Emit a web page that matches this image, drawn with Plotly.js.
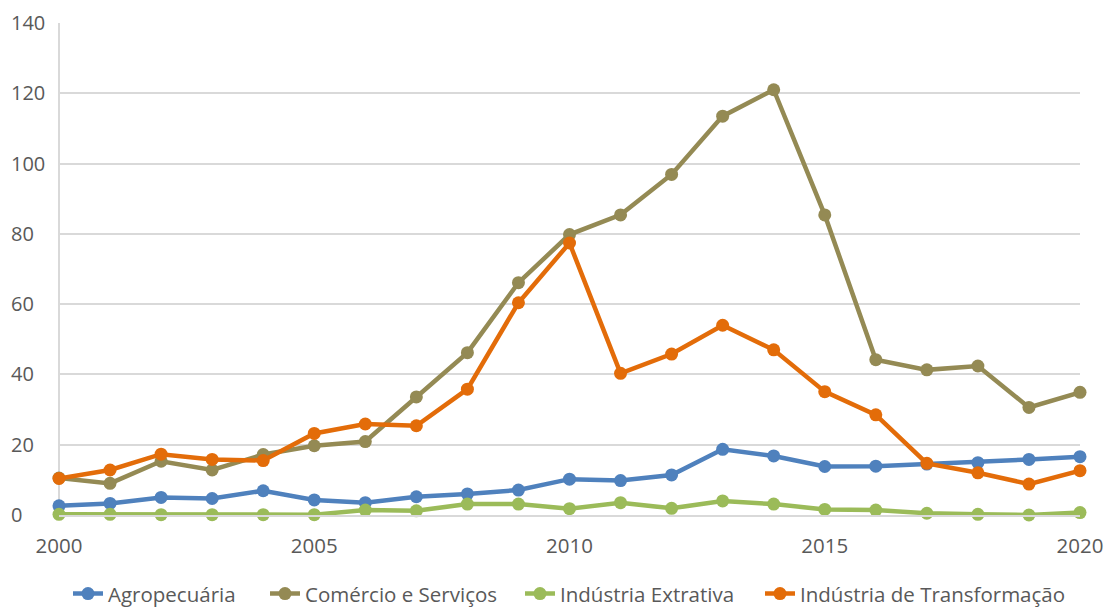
<!DOCTYPE html>
<html>
<head>
<meta charset="utf-8">
<script src="https://cdn.plot.ly/plotly-3.0.1.min.js"></script>
<style>html,body{margin:0;padding:0;background:#fff;}</style>
</head>
<body>
<div id="chart" style="width:1106px;height:609px;"></div>
<script>
const years = [2000,2001,2002,2003,2004,2005,2006,2007,2008,2009,2010,2011,2012,2013,2014,2015,2016,2017,2018,2019,2020];
const agropecuaria = [2.6,3.3,5.0,4.7,6.9,4.3,3.5,5.2,6.0,7.1,10.2,9.8,11.4,18.7,16.8,13.8,13.9,14.5,14.9,15.8,16.6];
const comercioServicos = [10.5,9.0,15.3,12.8,17.2,19.7,20.9,33.6,46.2,66.1,79.8,85.4,96.9,113.5,121.0,85.4,44.2,41.3,42.4,30.6,34.9];
const industriaExtrativa = [0.2,0.2,0.1,0.1,0.1,0.1,1.4,1.2,3.1,3.1,1.8,3.5,1.9,4.0,3.1,1.6,1.4,0.5,0.2,0.0,0.7];
const industriaTransformacao = [10.4,12.8,17.3,15.8,15.5,23.2,25.9,25.4,35.8,60.4,77.4,40.3,45.8,54.0,47.0,35.1,28.5,14.7,12.0,8.8,12.6];
const seriesNames = ["Agropecuária","Comércio e Serviços","Indústria Extrativa","Indústria de Transformação"];
const xTicks = [2000,2005,2010,2015,2020];
const yTicks = [0,20,40,60,80,100,120,140];

const colors = ["#4F81BD","#948A54","#9BBB59","#E36C09"];
const values = [agropecuaria, comercioServicos, industriaExtrativa, industriaTransformacao];
const legendIds = ['legend','legend2','legend3','legend4'];
const legendMarkerPx = [88, 285, 540, 780];
const font = "'Open Sans', sans-serif";

const traces = values.map((v,i)=>({
  x: years, y: v, name: seriesNames[i], type: 'scatter', mode: 'lines+markers',
  line: {color: colors[i], width: 4.5},
  marker: {color: colors[i], size: 13},
  cliponaxis: false,
  legend: legendIds[i]
}));

const ML = 10, MR = 26, W = 1106;
const plotW = W - ML - MR;

const layout = {
  width: 1106, height: 609,
  margin: {l: ML, r: MR, t: 23, b: 94, autoexpand: false},
  paper_bgcolor: '#ffffff', plot_bgcolor: '#ffffff',
  showlegend: true,
  xaxis: {
    domain: [49/plotW, 1],
    range: [2000, 2020], tickvals: xTicks, ticktext: xTicks.map(String),
    showgrid: false, zeroline: false,
    showline: true, linecolor: '#D9D9D9', linewidth: 2,
    ticks: '', ticklabelstandoff: 11,
    tickfont: {family: font, size: 20.5, color: '#595959'}
  },
  yaxis: {
    range: [0, 140], tickvals: yTicks, ticktext: yTicks.map(String),
    anchor: 'free', position: 0, side: 'right',
    ticklabelposition: 'outside',
    showgrid: true, gridcolor: '#D9D9D9', gridwidth: 2,
    zeroline: false, showline: false, ticks: '',
    tickfont: {family: font, size: 20, color: '#595959'}
  },
  shapes: [{type: 'line', xref: 'x domain', yref: 'y domain', x0: 0, x1: 0, y0: 0, y1: 1,
            line: {color: '#D9D9D9', width: 2}, layer: 'below'}]
};

legendIds.forEach((id,i)=>{
  layout[id] = {
    orientation: 'h', x: (legendMarkerPx[i] - 20 - ML) / plotW, xanchor: 'left',
    y: -0.160, yanchor: 'middle',
    font: {family: font, size: 20.5, color: '#595959'},
    bgcolor: 'rgba(0,0,0,0)', borderwidth: 0
  };
});

Plotly.newPlot('chart', traces, layout, {displayModeBar: false, staticPlot: true});
</script>
</body>
</html>
